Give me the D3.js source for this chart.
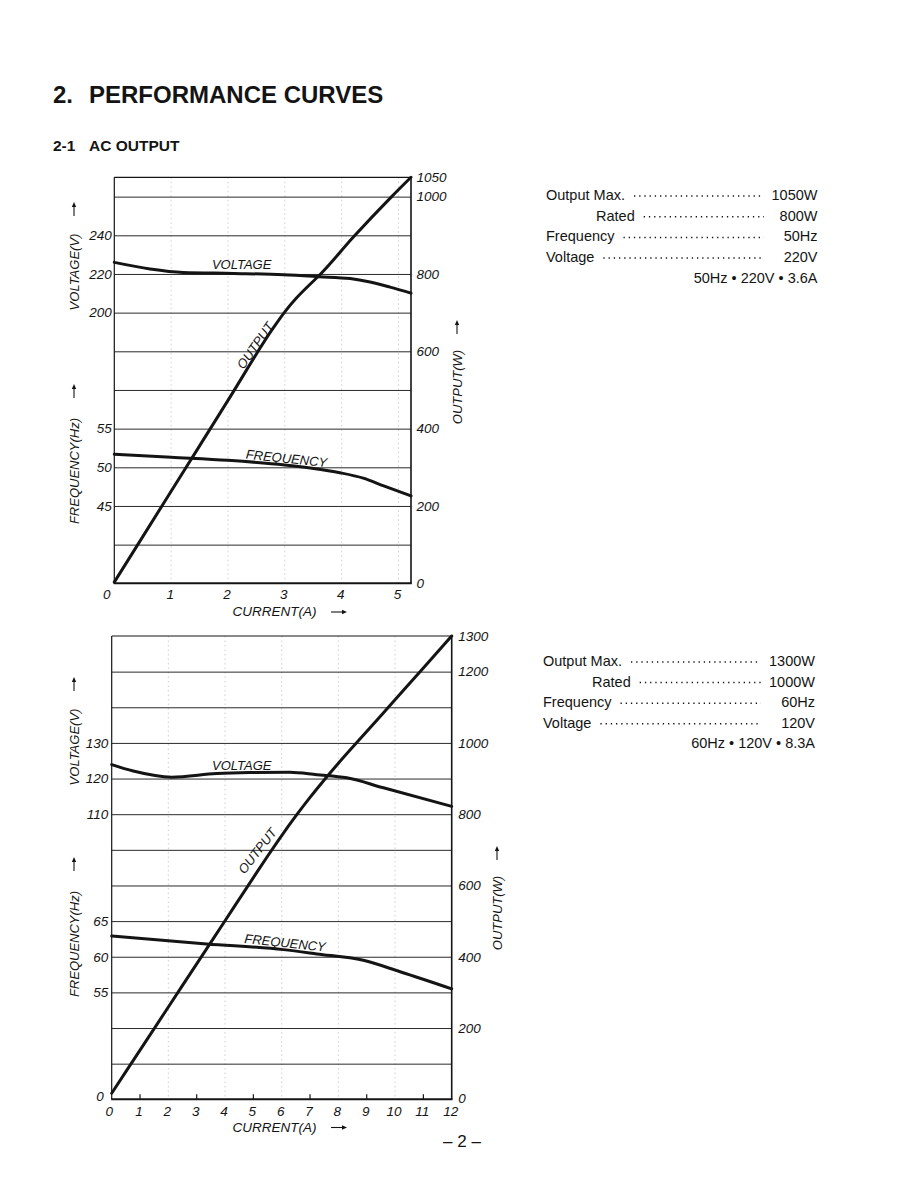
<!DOCTYPE html>
<html>
<head>
<meta charset="utf-8">
<script src="https://cdn.jsdelivr.net/npm/d3@7"></script>
<style>
  html, body { margin: 0; padding: 0; background: #fff; }
  svg { display: block; }
</style>
</head>
<body>
<script>
// ---------------- DATA ----------------
// Top chart (50 Hz / 220 V)
const topCurrentOut = [0, 1, 2, 2.8, 3.0, 3.2, 3.4, 3.63, 4.21, 4.88, 5.22];
const topOutputW    = [3, 238, 473, 661, 702, 737, 767, 800, 896, 1000, 1050];
const topCurrentV   = [0, 0.63, 1.21, 2.1, 2.98, 3.6, 4.15, 4.5, 4.85, 5.22];
const topVoltage    = [226, 222.6, 220.8, 220.3, 219.6, 218.6, 217.6, 215.8, 213.2, 210.1];
const topCurrentF   = [0, 1, 2, 3, 3.45, 3.97, 4.38, 4.74, 5.22];
const topFrequency  = [51.7, 51.3, 50.9, 50.3, 49.9, 49.3, 48.6, 47.6, 46.3];
const topXTicks = [0, 1, 2, 3, 4, 5];
const topWTicks = [0, 200, 400, 600, 800, 1000, 1050];
const topVTicks = [200, 220, 240];
const topFTicks = [45, 50, 55];
const topGrid   = [100, 200, 300, 400, 500, 600, 700, 800, 900, 1000];

// Bottom chart (60 Hz / 120 V)
const botCurrentOut = [0, 1, 2, 3, 4, 5, 5.5, 6, 6.5, 7, 7.5, 8, 9, 10, 11, 12];
const botOutputW    = [17, 138, 259, 380, 501, 622, 682, 740, 795, 847, 896, 943, 1032, 1121, 1210, 1300];
const botCurrentV   = [0, 0.76, 2.12, 3.7, 4.88, 6.29, 7.24, 8.3, 9.59, 12];
const botVoltage    = [123.9, 122.1, 120.4, 121.4, 121.7, 121.8, 121.1, 120.2, 117.4, 112.2];
const botCurrentF   = [0, 3.35, 6.06, 7.24, 8.88, 10.18, 12];
const botFrequency  = [62.9, 61.8, 61.0, 60.4, 59.5, 57.9, 55.5];
const botXTicks = [0, 1, 2, 3, 4, 5, 6, 7, 8, 9, 10, 11, 12];
const botWTicks = [0, 200, 400, 600, 800, 1000, 1200, 1300];
const botVTicks = [110, 120, 130];
const botFTicks = [55, 60, 65];
const botGrid   = [100, 200, 300, 400, 500, 600, 700, 800, 900, 1000, 1100, 1200];

// Spec text
const specLabels = ["Output Max.", "Rated", "Frequency", "Voltage"];
const spec50 = ["1050W", "800W", "50Hz", "220V"];
const summary50 = "50Hz \u2022 220V \u2022 3.6A";
const spec60 = ["1300W", "1000W", "60Hz", "120V"];
const summary60 = "60Hz \u2022 120V \u2022 8.3A";

// ---------------- DRAWING ----------------
const FONT = "'Liberation Sans', Arial, Helvetica, sans-serif";
const INK = "#141414";
const fmt = d3.format("d");

const svg = d3.select("body").append("svg")
  .attr("width", 918).attr("height", 1188)
  .attr("font-family", FONT);

svg.append("rect").attr("width", 918).attr("height", 1188).attr("fill", "#fff");

// Titles
svg.append("text").attr("x", 53).attr("y", 103)
  .attr("font-size", 24).attr("font-weight", "bold").attr("fill", INK)
  .text("2.");
svg.append("text").attr("x", 89).attr("y", 103)
  .attr("font-size", 24).attr("font-weight", "bold").attr("fill", INK)
  .text("PERFORMANCE CURVES");
svg.append("text").attr("x", 53).attr("y", 151)
  .attr("font-size", 15.5).attr("font-weight", "bold").attr("fill", INK)
  .text("2-1");
svg.append("text").attr("x", 89).attr("y", 151)
  .attr("font-size", 15.5).attr("font-weight", "bold").attr("fill", INK)
  .text("AC OUTPUT");

function arrowUp(g, x, yTail, yHead) {
  g.append("line").attr("x1", x).attr("x2", x).attr("y1", yTail).attr("y2", yHead + 3)
    .attr("stroke", INK).attr("stroke-width", 1.1);
  g.append("path").attr("d", `M${x},${yHead} L${x - 2.2},${yHead + 5} L${x + 2.2},${yHead + 5} Z`)
    .attr("fill", INK);
}
function arrowRight(g, xTail, xHead, y) {
  g.append("line").attr("x1", xTail).attr("x2", xHead - 3).attr("y1", y).attr("y2", y)
    .attr("stroke", INK).attr("stroke-width", 1.1);
  g.append("path").attr("d", `M${xHead},${y} L${xHead - 5},${y - 2.2} L${xHead - 5},${y + 2.2} Z`)
    .attr("fill", INK);
}

function styleAxis(g, size) {
  g.select(".domain").remove();
  g.selectAll("line").remove();
  g.selectAll("text").attr("font-family", FONT).attr("font-size", size)
    .attr("font-style", "italic").attr("fill", INK);
}

function drawChart(c) {
  const g = svg.append("g");
  const [xl, xr] = c.x.range();
  const [yb, yt] = c.w.range();

  // faint dotted verticals
  g.append("g").selectAll("line").data(c.dotted).join("line")
    .attr("x1", d => c.x(d)).attr("x2", d => c.x(d))
    .attr("y1", yt).attr("y2", yb)
    .attr("stroke", "#9a9a9a").attr("stroke-width", 1)
    .attr("stroke-dasharray", "1.5 3").attr("opacity", 0.45);

  // horizontal gridlines via axis
  const grid = g.append("g").attr("transform", `translate(${xl},0)`)
    .call(d3.axisRight(c.w).tickValues(c.grid).tickSize(xr - xl).tickFormat(""));
  grid.select(".domain").remove();
  grid.selectAll("line").attr("stroke", "#2a2a2a").attr("stroke-width", 1);

  // frame
  g.append("line").attr("x1", xl).attr("x2", xr).attr("y1", yt).attr("y2", yt)
    .attr("stroke", INK).attr("stroke-width", 1.2);
  g.append("line").attr("x1", xl).attr("x2", xl).attr("y1", yt).attr("y2", yb)
    .attr("stroke", INK).attr("stroke-width", 1.2);
  g.append("line").attr("x1", xr).attr("x2", xr).attr("y1", yt).attr("y2", yb)
    .attr("stroke", INK).attr("stroke-width", 1.6);
  g.append("line").attr("x1", xl - 0.5).attr("x2", xr + 0.8).attr("y1", yb).attr("y2", yb)
    .attr("stroke", INK).attr("stroke-width", 2);

  // inner tick marks on x axis
  if (c.innerTicks) {
    g.append("g").selectAll("line").data(c.innerTicks).join("line")
      .attr("x1", d => c.x(d)).attr("x2", d => c.x(d))
      .attr("y1", yb).attr("y2", yb - 5)
      .attr("stroke", INK).attr("stroke-width", 1.2);
  }

  // curves
  const line = (xs, ys, yScale) => d3.line()
    .x(i => c.x(xs[i])).y(i => yScale(ys[i]))
    .curve(d3.curveMonotoneX)(d3.range(xs.length));
  [[c.curV, c.volt, c.v], [c.curF, c.freq, c.f], [c.curW, c.out, c.w]].forEach(([xs, ys, sc]) => {
    g.append("path").attr("d", line(xs, ys, sc))
      .attr("fill", "none").attr("stroke", INK).attr("stroke-width", 3)
      .attr("stroke-linejoin", "round").attr("stroke-linecap", "round");
  });

  // axes
  const aR = g.append("g").attr("transform", `translate(${xr},0)`)
    .call(d3.axisRight(c.w).tickValues(c.wTicks).tickSize(0).tickPadding(c.rPad).tickFormat(fmt));
  styleAxis(aR, 13.5);
  const aV = g.append("g").attr("transform", `translate(${xl},0)`)
    .call(d3.axisLeft(c.v).tickValues(c.vTicks).tickSize(0).tickPadding(c.lPad).tickFormat(fmt));
  styleAxis(aV, 13.5);
  const aF = g.append("g").attr("transform", `translate(${xl},0)`)
    .call(d3.axisLeft(c.f).tickValues(c.fTicks).tickSize(0).tickPadding(c.lPad).tickFormat(fmt));
  styleAxis(aF, 13.5);
  if (c.leftZero) {
    const aZ = g.append("g").attr("transform", `translate(${xl},0)`)
      .call(d3.axisLeft(c.w).tickValues([0]).tickSize(0).tickPadding(8).tickFormat(fmt));
    styleAxis(aZ, 13.5);
    aZ.selectAll("text").attr("dy", "0.1em");
  }
  const aX = g.append("g").attr("transform", `translate(0,${yb})`)
    .call(d3.axisBottom(c.x).tickValues(c.xTicks).tickSize(0).tickPadding(c.bPad).tickFormat(fmt));
  styleAxis(aX, 13.5);
  aX.selectAll("text").attr("dx", d => (d === 0 ? c.zeroDx : -1.5));
  if (c.rightZeroUp) aR.selectAll("text").filter(d => d === 0).attr("dy", "0.2em");

  // curve labels
  const lab = (txt, xv, yv, sc, rot) => {
    g.append("text")
      .attr("transform", `translate(${c.x(xv)},${sc(yv)}) rotate(${rot})`)
      .attr("text-anchor", "middle").attr("dominant-baseline", "central")
      .attr("font-size", 13).attr("font-style", "italic").attr("fill", INK)
      .text(txt);
  };
  lab("VOLTAGE", c.labV[0], c.labV[1], c.v, 0);
  lab("OUTPUT", c.labW[0], c.labW[1], c.w, c.labW[2]);
  lab("FREQUENCY", c.labF[0], c.labF[1], c.f, c.labF[2]);

  // axis titles
  const vt = (txt, x, y) => g.append("text")
    .attr("transform", `translate(${x},${y}) rotate(-90)`)
    .attr("text-anchor", "middle").attr("dominant-baseline", "central")
    .attr("font-size", 13).attr("font-style", "italic").attr("fill", INK).text(txt);
  vt("VOLTAGE(V)", 74, c.tV);
  arrowUp(g, 74, c.tV - 56, c.tV - 70);
  vt("FREQUENCY(Hz)", 74, c.tF);
  arrowUp(g, 74, c.tF - 73, c.tF - 87);
  vt("OUTPUT(W)", c.tWx, c.tW);
  arrowUp(g, c.tWx, c.tW - 53, c.tW - 67);
  g.append("text").attr("x", 274.5).attr("y", c.tX)
    .attr("text-anchor", "middle").attr("dominant-baseline", "central")
    .attr("font-size", 13.5).attr("font-style", "italic").attr("fill", INK).text("CURRENT(A)");
  arrowRight(g, 331, 347, c.tX + 0.5);
}

drawChart({
  x: d3.scaleLinear().domain([0, 5.22]).range([114.3, 411]),
  w: d3.scaleLinear().domain([0, 1050]).range([583.3, 177.3]),
  v: d3.scaleLinear().domain([60, 270]).range([583.3, 177.3]),
  f: d3.scaleLinear().domain([35, 87.5]).range([583.3, 177.3]),
  curW: topCurrentOut, out: topOutputW,
  curV: topCurrentV, volt: topVoltage,
  curF: topCurrentF, freq: topFrequency,
  xTicks: topXTicks, wTicks: topWTicks, vTicks: topVTicks, fTicks: topFTicks, grid: topGrid,
  dotted: [1, 2, 3, 4, 5],
  innerTicks: null,
  rPad: 5.5, lPad: 2.5, bPad: 6, zeroDx: -8,
  leftZero: false, rightZeroUp: false,
  labV: [2.24, 224.7], labW: [2.48, 615, -55], labF: [3.03, 51.15, 6],
  tV: 272, tF: 471, tW: 387, tWx: 457, tX: 611.5
});

drawChart({
  x: d3.scaleLinear().domain([0, 12]).range([111.7, 451.7]),
  w: d3.scaleLinear().domain([0, 1300]).range([1099.3, 636]),
  v: d3.scaleLinear().domain([30, 160]).range([1099.3, 636]),
  f: d3.scaleLinear().domain([40, 105]).range([1099.3, 636]),
  curW: botCurrentOut, out: botOutputW,
  curV: botCurrentV, volt: botVoltage,
  curF: botCurrentF, freq: botFrequency,
  xTicks: botXTicks, wTicks: botWTicks, vTicks: botVTicks, fTicks: botFTicks, grid: botGrid,
  dotted: [2, 4, 6, 8, 10],
  innerTicks: [1, 3, 5, 7, 9, 11],
  rPad: 6.5, lPad: 3.5, bPad: 7, zeroDx: -3,
  leftZero: true, rightZeroUp: true,
  labV: [4.59, 123.75], labW: [5.14, 697, -52], labF: [6.12, 61.96, 6],
  tV: 747, tF: 944, tW: 913, tWx: 497, tX: 1127
});

// ---------------- SPEC BLOCKS ----------------
function specBlock(x0, xRated, xRight, xDotEnd, y0, step, values, summary) {
  const g = svg.append("g").attr("font-size", 14.5).attr("fill", INK);
  specLabels.forEach((lbl, i) => {
    const y = y0 + i * step;
    const t = g.append("text").attr("x", i === 1 ? xRated : x0).attr("y", y).text(lbl);
    const end = (i === 1 ? xRated : x0) + t.node().getComputedTextLength();
    g.append("line").attr("x1", end + 9).attr("x2", xDotEnd).attr("y1", y - 4).attr("y2", y - 4)
      .attr("stroke", INK).attr("stroke-width", 1.5)
      .attr("stroke-dasharray", "1.3 3.9");
    g.append("text").attr("x", xRight).attr("y", y).attr("text-anchor", "end").text(values[i]);
  });
  g.append("text").attr("x", xRight).attr("y", y0 + 4 * step)
    .attr("text-anchor", "end").text(summary);
}
specBlock(546, 596, 817.5, 764, 200, 20.7, spec50, summary50);
specBlock(543, 592, 815, 761, 666, 20.6, spec60, summary60);

// page number
svg.append("text").attr("x", 462).attr("y", 1147).attr("text-anchor", "middle")
  .attr("font-size", 17).attr("fill", INK).text("\u2013 2 \u2013");
</script>
</body>
</html>
